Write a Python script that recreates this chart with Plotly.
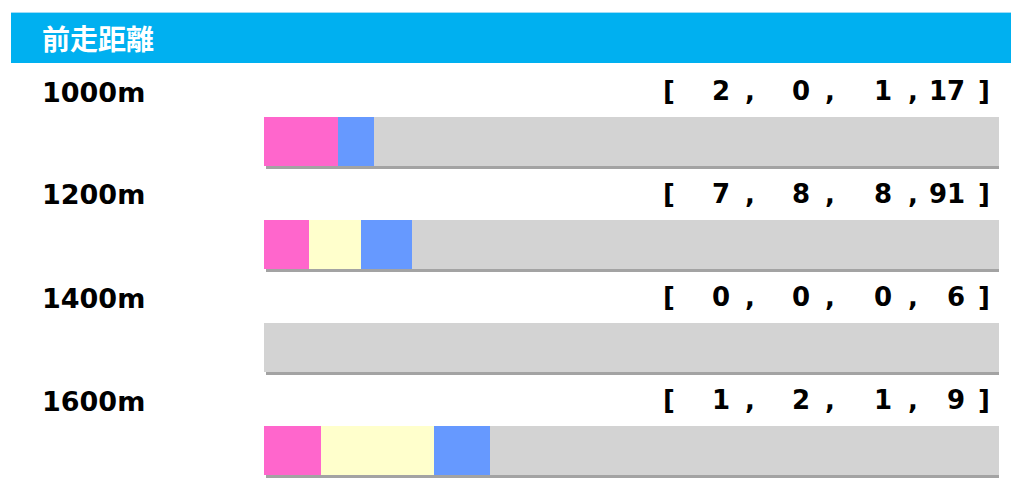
import plotly.graph_objects as go

# ---- data ----
categories = ["1000m", "1200m", "1400m", "1600m"]
first = [2, 7, 0, 1]
second = [0, 8, 0, 2]
third = [1, 8, 0, 1]
others = [17, 91, 6, 9]
series_names = ["1着", "2着", "3着", "着外"]
title_text = "前走距離"

# ---- styles ----
W, H = 1024, 491
OFF = 8  # page body margin
colors = ["#FF66CC", "#FFFFCC", "#6699FF", "#D3D3D3"]
shadow_color = "#A3A3A3"
header_color = "#00B0F0"
font_num = "DejaVu Sans"

row_top_center = 141 - OFF   # px center of first bar
row_step = 103               # px between rows
bar_h = 49                   # px bar thickness
x0_px, x1_px = 264 - OFF, 999 - OFF

r0 = -row_top_center / row_step
r1 = r0 + H / row_step
bw = bar_h / row_step

totals = [a + b + c + d for a, b, c, d in zip(first, second, third, others)]
series = [first, second, third, others]

fig = go.Figure()

# shadow
fig.add_trace(go.Bar(
    y=categories, x=[1.0] * len(categories), base=[2 / (x1_px - x0_px)] * len(categories),
    orientation="h", width=bw, offset=-bw / 2 + 3 / row_step,
    marker=dict(color=shadow_color, line=dict(width=0)),
    hoverinfo="skip", showlegend=False))

cum = [0.0] * len(categories)
for name, vals, col in zip(series_names, series, colors):
    frac = [v / t for v, t in zip(vals, totals)]
    fig.add_trace(go.Bar(
        y=categories, x=frac, base=list(cum), orientation="h",
        width=bw, name=name,
        marker=dict(color=col, line=dict(width=0)),
        showlegend=False))
    cum = [c + f for c, f in zip(cum, frac)]


def px(x):
    return (x - OFF) / W


def py(y):
    return 1 - (y - OFF) / H


annotations = []
# header text
annotations.append(dict(
    x=px(40), y=py(38), xref="paper", yref="paper", xanchor="left", yanchor="middle",
    text="<b>" + title_text + "</b>", showarrow=False,
    font=dict(family="Noto Sans CJK JP", size=28, color="white")))

num_right = [732, 812, 894, 967]
comma_left = [743, 823, 906]
for i, cat in enumerate(categories):
    yc = 141 + row_step * i - 50
    yp = py(yc)
    annotations.append(dict(
        x=px(40), y=py(yc + 1), xref="paper", yref="paper", xanchor="left", yanchor="middle",
        text="<b>" + cat + "</b>", showarrow=False,
        font=dict(family=font_num, size=27, color="black")))
    annotations.append(dict(
        x=px(661), y=yp, xref="paper", yref="paper", xanchor="left", yanchor="middle",
        text="<b>[</b>", showarrow=False,
        font=dict(family=font_num, size=26, color="black")))
    annotations.append(dict(
        x=px(976), y=yp, xref="paper", yref="paper", xanchor="left", yanchor="middle",
        text="<b>]</b>", showarrow=False,
        font=dict(family=font_num, size=26, color="black")))
    for j, vals in enumerate(series):
        annotations.append(dict(
            x=px(num_right[j]), y=yp, xref="paper", yref="paper", xanchor="right", yanchor="middle",
            text="<b>%d</b>" % vals[i], showarrow=False,
            font=dict(family=font_num, size=26, color="black")))
    for cl in comma_left:
        annotations.append(dict(
            x=px(cl), y=yp, xref="paper", yref="paper", xanchor="left", yanchor="middle",
            text="<b>,</b>", showarrow=False,
            font=dict(family=font_num, size=26, color="black")))

shapes = [
    dict(type="rect", xref="paper", yref="paper",
         x0=px(11), x1=px(1011), y0=py(63), y1=py(12),
         fillcolor=header_color, line=dict(width=0), layer="below"),
    dict(type="line", xref="paper", yref="paper",
         x0=px(11), x1=px(1011), y0=py(12.5), y1=py(12.5),
         line=dict(color="#9FDCF7", width=1)),
]

fig.update_layout(
    width=W, height=H,
    margin=dict(l=0, r=0, t=0, b=0),
    paper_bgcolor="white", plot_bgcolor="white",
    barmode="overlay", bargap=0,
    xaxis=dict(domain=[x0_px / W, x1_px / W], range=[0, 1], visible=False, fixedrange=True),
    yaxis=dict(domain=[0, 1], range=[r1, r0], type="category",
               categoryorder="array", categoryarray=categories,
               visible=False, fixedrange=True),
    annotations=annotations, shapes=shapes,
)

fig.write_html("out.html")
